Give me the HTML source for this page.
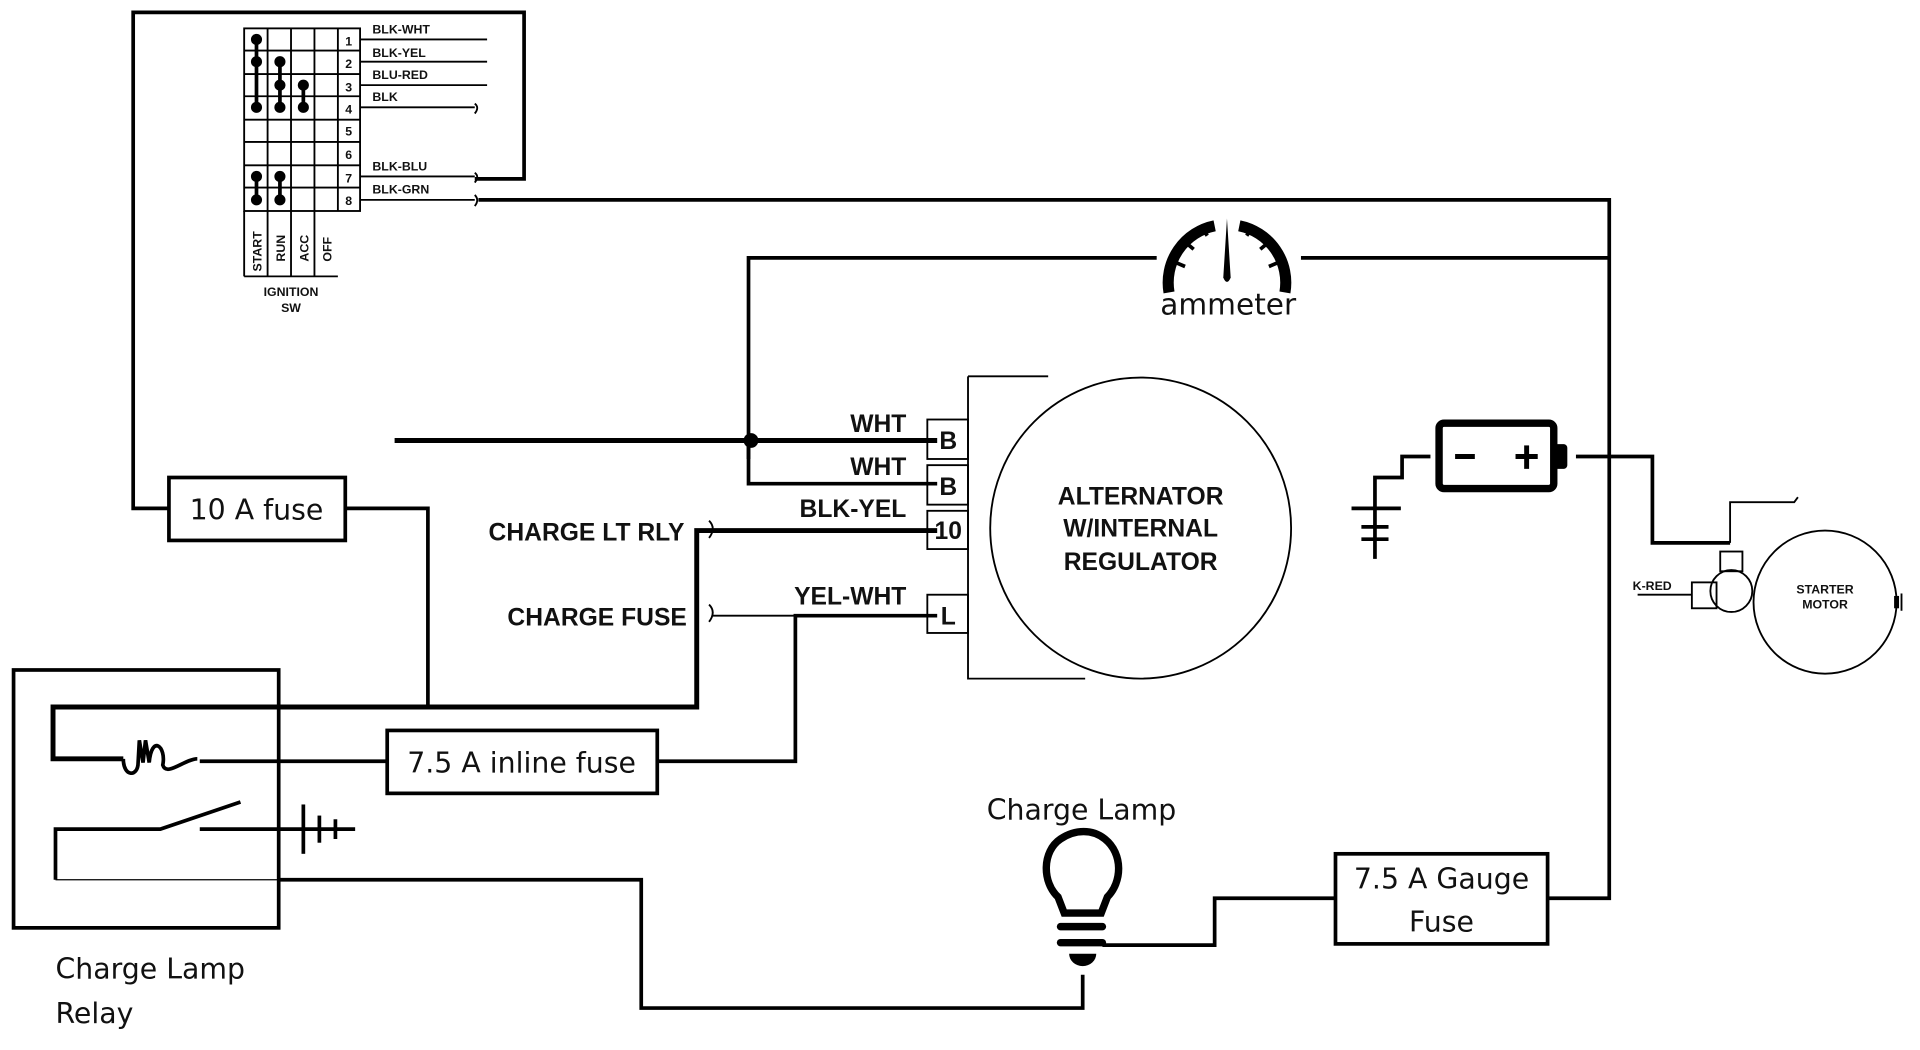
<!DOCTYPE html>
<html><head><meta charset="utf-8"><style>
html,body{margin:0;padding:0;background:#fff;}
svg{display:block;}
.w{fill:none;stroke:#000;stroke-width:3;}
.t{fill:none;stroke:#000;stroke-width:1.5;}
.lbl{font-family:"Liberation Sans",sans-serif;font-weight:bold;fill:#111;}
.cal{font-family:"DejaVu Sans","Liberation Sans",sans-serif;fill:#111;}
</style></head><body>
<svg width="1920" height="1050" viewBox="0 0 1557 851" preserveAspectRatio="none">
<rect width="1557" height="851" fill="#fff"/>
<!-- left loop + top -->
<polyline class="w" points="137,412 108,412 108,10 425,10 425,145 385,145"/>
<rect x="137" y="387" width="143" height="51" class="w"/>
<text x="208" y="421" class="cal" font-size="23" text-anchor="middle">10 A fuse</text>
<polyline class="w" points="280,412 347,412 347,573"/>
<!-- ignition switch -->
<g class="t">
<rect x="198" y="23" width="94" height="148"/>
<line x1="217" y1="23" x2="217" y2="224"/><line x1="236" y1="23" x2="236" y2="224"/>
<line x1="255" y1="23" x2="255" y2="224"/><line x1="274" y1="23" x2="274" y2="171"/>
<line x1="198" y1="171" x2="198" y2="224"/><line x1="198" y1="224" x2="274" y2="224"/>
<line x1="198" y1="41" x2="292" y2="41"/><line x1="198" y1="60" x2="292" y2="60"/>
<line x1="198" y1="78" x2="292" y2="78"/><line x1="198" y1="97" x2="292" y2="97"/>
<line x1="198" y1="115" x2="292" y2="115"/><line x1="198" y1="134" x2="292" y2="134"/>
<line x1="198" y1="152" x2="292" y2="152"/>
<line x1="292" y1="32" x2="395" y2="32"/><line x1="292" y1="50" x2="395" y2="50"/>
<line x1="292" y1="69" x2="395" y2="69"/><line x1="292" y1="87" x2="385" y2="87"/>
<line x1="292" y1="143" x2="385" y2="143"/><line x1="292" y1="162" x2="385" y2="162"/>
</g>
<g fill="#000">
<circle cx="208" cy="32" r="4.5"/><circle cx="208" cy="50" r="4.5"/><circle cx="208" cy="87" r="4.5"/>
<rect x="206.5" y="32" width="3" height="55"/>
<circle cx="227" cy="50" r="4.5"/><circle cx="227" cy="69" r="4.5"/><circle cx="227" cy="87" r="4.5"/>
<rect x="225.5" y="50" width="3" height="37"/>
<circle cx="246" cy="69" r="4.5"/><circle cx="246" cy="87" r="4.5"/><rect x="244.5" y="69" width="3" height="18"/>
<circle cx="208" cy="143" r="4.5"/><circle cx="208" cy="162" r="4.5"/><rect x="206.5" y="143" width="3" height="19"/>
<circle cx="227" cy="143" r="4.5"/><circle cx="227" cy="162" r="4.5"/><rect x="225.5" y="143" width="3" height="19"/>
</g>
<g class="lbl" font-size="10">
<text x="280" y="37">1</text><text x="280" y="55">2</text><text x="280" y="74">3</text><text x="280" y="92">4</text>
<text x="280" y="110">5</text><text x="280" y="129">6</text><text x="280" y="148">7</text><text x="280" y="166">8</text>
<text x="302" y="27">BLK-WHT</text><text x="302" y="46">BLK-YEL</text><text x="302" y="64">BLU-RED</text><text x="302" y="82">BLK</text>
<text x="302" y="138">BLK-BLU</text><text x="302" y="157">BLK-GRN</text>
<text x="212" y="220" transform="rotate(-90 212 220)">START</text>
<text x="231" y="212" transform="rotate(-90 231 212)">RUN</text>
<text x="250" y="212" transform="rotate(-90 250 212)">ACC</text>
<text x="269" y="212" transform="rotate(-90 269 212)">OFF</text>
<text x="236" y="240" text-anchor="middle">IGNITION</text><text x="236" y="253" text-anchor="middle">SW</text>
</g>
<path class="t" d="M385,84 q4,3 0,8 M385,140 q4,3 0,8"/>
<!-- BLK-GRN to right -->
<path class="t" d="M385,158 q4,4 0,9"/>
<polyline class="w" points="388,162 1305,162 1305,728 1255,728"/>
<!-- ammeter line -->
<polyline class="w" points="938,209 607,209 607,372"/>
<line class="w" x1="1055" y1="209" x2="1305" y2="209"/>
<path d="M948,237 A47,47 0 0 1 985,183" fill="none" stroke="#000" stroke-width="9"/>
<path d="M1005,183 A47,47 0 0 1 1042,237" fill="none" stroke="#000" stroke-width="9"/>
<g stroke="#000" stroke-width="3">
<line x1="954" y1="213" x2="961" y2="216"/><line x1="962" y1="197" x2="968" y2="202"/><line x1="975" y1="185" x2="979" y2="191"/>
<line x1="1036" y1="213" x2="1029" y2="216"/><line x1="1028" y1="197" x2="1022" y2="202"/><line x1="1015" y1="185" x2="1011" y2="191"/>
</g>
<path d="M995,177 L998,225 Q995,232 992,225 Z" fill="#000"/>
<text x="996" y="255" class="cal" font-size="24" text-anchor="middle">ammeter</text>
<!-- alternator -->
<line x1="320" y1="357" x2="760" y2="357" stroke="#000" stroke-width="4"/>
<circle cx="609" cy="357" r="6" fill="#000"/>
<polyline class="w" points="607,357 607,392 760,392"/>
<g class="t" stroke-width="2">
<path d="M785,305 L850,305 M785,305 L785,550 L880,550"/>
<circle cx="925" cy="428" r="122"/>
<rect x="752" y="340" width="33" height="32"/><rect x="752" y="377" width="33" height="32"/>
<rect x="752" y="414" width="33" height="31"/><rect x="752" y="482" width="33" height="31"/>
</g>
<g class="lbl" font-size="20">
<text x="769" y="364" text-anchor="middle">B</text><text x="769" y="401" text-anchor="middle">B</text>
<text x="769" y="437" text-anchor="middle">10</text><text x="769" y="506" text-anchor="middle">L</text>
<text x="735" y="350" text-anchor="end">WHT</text><text x="735" y="385" text-anchor="end">WHT</text>
<text x="735" y="419" text-anchor="end">BLK-YEL</text><text x="735" y="490" text-anchor="end">YEL-WHT</text>
<text x="555" y="438" text-anchor="end">CHARGE LT RLY</text><text x="557" y="507" text-anchor="end">CHARGE FUSE</text>
<text x="925" y="409" text-anchor="middle">ALTERNATOR</text><text x="925" y="435" text-anchor="middle">W/INTERNAL</text>
<text x="925" y="462" text-anchor="middle">REGULATOR</text>
</g>
<path class="t" d="M575,422 q6,6 0,14 M575,490 q6,6 0,14"/>
<polyline points="760,430 565,430 565,573 43,573 43,615 100,615" fill="none" stroke="#000" stroke-width="4"/>
<line class="t" x1="578" y1="499" x2="645" y2="499"/>
<polyline class="w" points="760,499 645,499 645,617 533,617"/>
<!-- 7.5 inline fuse -->
<rect x="314" y="592" width="219" height="51" class="w"/>
<text x="423" y="626" class="cal" font-size="23" text-anchor="middle">7.5 A inline fuse</text>
<line class="w" x1="162" y1="617" x2="314" y2="617"/>
<!-- relay -->
<rect x="11" y="543" width="215" height="209" class="w"/>
<path d="M100,615 C100,630 112,630 112,618 L113,600 L116,618 L118,600 L121,618 C123,595 135,605 132,620 C135,630 150,615 160,615" fill="none" stroke="#000" stroke-width="3"/>
<polyline class="w" points="45,713 45,672 130,672 195,650"/>
<line class="w" x1="162" y1="672" x2="288" y2="672"/>
<g stroke="#000" stroke-width="3"><line x1="246" y1="652" x2="246" y2="692"/><line x1="259" y1="661" x2="259" y2="683"/><line x1="272" y1="664" x2="272" y2="680"/></g>
<line x1="45" y1="713" x2="226" y2="713" stroke="#000" stroke-width="1"/>
<polyline class="w" points="226,713 520,713 520,817 878,817 878,790"/>
<text x="45" y="793" class="cal" font-size="23">Charge Lamp</text>
<text x="45" y="829" class="cal" font-size="23">Relay</text>
<!-- lamp -->
<text x="877" y="664" class="cal" font-size="23" text-anchor="middle">Charge Lamp</text>
<path d="M863,740 L858,727 C845,715 845,690 860,680 C872,672 886,672 896,680 C911,692 910,715 898,727 L893,740 Z" fill="none" stroke="#000" stroke-width="6"/>
<line x1="860" y1="751" x2="894" y2="751" stroke="#000" stroke-width="6" stroke-linecap="round"/>
<line x1="860" y1="764" x2="894" y2="764" stroke="#000" stroke-width="6" stroke-linecap="round"/>
<path d="M867,773 L889,773 A11,10 0 0 1 867,773 Z" fill="#000"/>
<polyline class="w" points="894,766 985,766 985,728 1083,728"/>
<rect x="1083" y="692" width="172" height="73" class="w"/>
<text x="1169" y="720" class="cal" font-size="23" text-anchor="middle">7.5 A Gauge</text>
<text x="1169" y="755" class="cal" font-size="23" text-anchor="middle">Fuse</text>
<!-- battery -->
<rect x="1167" y="343" width="93" height="53" rx="4" fill="none" stroke="#000" stroke-width="6"/>
<rect x="1260" y="360" width="11" height="20" rx="3" fill="#000"/>
<line x1="1180" y1="370" x2="1196" y2="370" stroke="#000" stroke-width="4"/>
<line x1="1229" y1="370" x2="1247" y2="370" stroke="#000" stroke-width="4"/><line x1="1238" y1="361" x2="1238" y2="380" stroke="#000" stroke-width="4"/>
<polyline class="w" points="1160,370 1137,370 1137,387 1115,387 1115,453"/>
<g stroke="#000" stroke-width="3"><line x1="1096" y1="412" x2="1136" y2="412"/><line x1="1104" y1="427" x2="1126" y2="427"/><line x1="1104" y1="437" x2="1126" y2="437"/></g>
<polyline class="w" points="1278,370 1340,370 1340,440 1403,440"/>
<!-- starter -->
<g class="t">
<polyline points="1403,440 1403,407 1455,407 1458,403"/>
<circle cx="1480" cy="488" r="58"/>
<circle cx="1404" cy="479" r="17"/>
<rect x="1395" y="447" width="18" height="16"/>
<rect x="1372" y="472" width="20" height="21"/>
<line x1="1328" y1="482" x2="1372" y2="482"/>
</g>
<text x="1324" y="478" class="lbl" font-size="10">K-RED</text>
<text x="1480" y="481" class="lbl" font-size="10" text-anchor="middle">STARTER</text>
<text x="1480" y="493" class="lbl" font-size="10" text-anchor="middle">MOTOR</text>
<rect x="1536" y="483" width="4" height="10" fill="#000"/><line class="t" x1="1542" y1="481" x2="1542" y2="495"/>
</svg>
</body></html>
